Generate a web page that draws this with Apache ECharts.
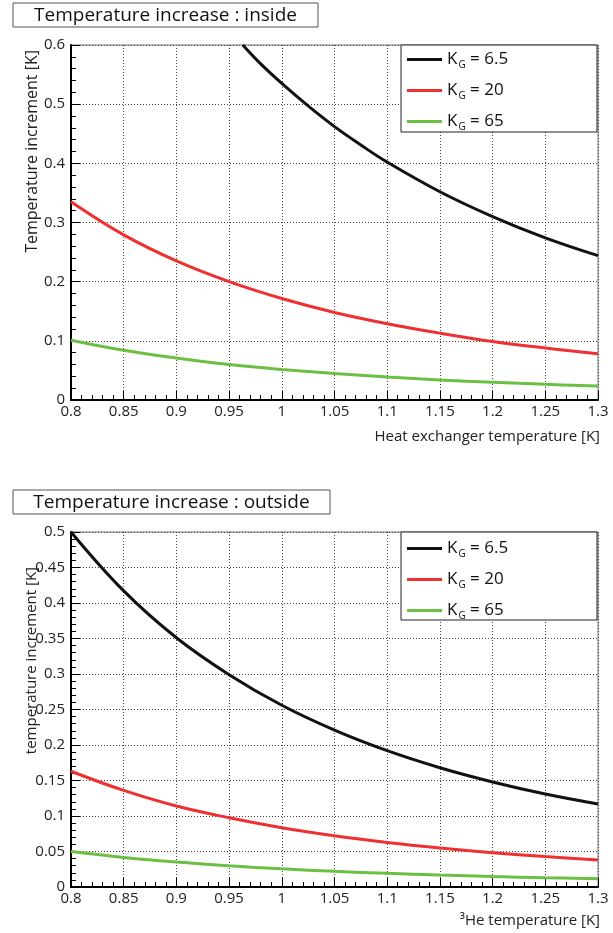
<!DOCTYPE html>
<html>
<head>
<meta charset="utf-8">
<script src="https://cdn.jsdelivr.net/npm/echarts@6/dist/echarts.min.js"></script>
<style>
  html, body { margin: 0; padding: 0; background: #fff; }
  #chart { width: 613px; height: 933px; }
</style>
</head>
<body>
<div id="chart"></div>
<script>
// x values (K)
var temps = [0.8, 0.85, 0.9, 0.95, 1.0, 1.05, 1.1, 1.15, 1.2, 1.25, 1.3];
var tempsInsideBlack = [0.963, 0.98, 1.0, 1.025, 1.05, 1.075, 1.1, 1.15, 1.2, 1.25, 1.3];

// inside (heat exchanger temperature)
var insideK65 = [0.600, 0.568, 0.535, 0.497, 0.462, 0.431, 0.402, 0.352, 0.310, 0.274, 0.244];
var insideK20 = [0.335, 0.279, 0.235, 0.200, 0.1715, 0.148, 0.129, 0.113, 0.099, 0.088, 0.078];
var insideK65g = [0.101, 0.084, 0.071, 0.060, 0.0517, 0.0447, 0.0389, 0.034, 0.030, 0.0265, 0.0235];

// outside (3He temperature)
var outsideK65 = [0.500, 0.417, 0.351, 0.299, 0.256, 0.221, 0.192, 0.168, 0.148, 0.131, 0.117];
var outsideK20 = [0.163, 0.136, 0.114, 0.0975, 0.0835, 0.0721, 0.0627, 0.0549, 0.0483, 0.0428, 0.038];
var outsideK65g = [0.050, 0.0417, 0.0351, 0.0299, 0.0256, 0.0221, 0.0192, 0.0168, 0.0148, 0.0131, 0.0117];

var names = ['K_G = 6.5', 'K_G = 20', 'K_G = 65'];
var colors = ['#111111', '#ee3030', '#6cbf45'];

function pairs(xs, ys) {
  return xs.map(function (x, i) { return [x, ys[i]]; });
}

var font = 'Open Sans';

function xAxisFor(idx) {
  return {
    type: 'value', gridIndex: idx, min: 0.8, max: 1.3, interval: 0.05,
    axisLine: { onZero: false, lineStyle: { color: '#000', width: 2 } },
    axisTick: { inside: true, length: 9, lineStyle: { color: '#000', width: 1 } },
    minorTick: { show: true, splitNumber: 5, length: 5, lineStyle: { color: '#000', width: 1 } },
    splitLine: { show: true, lineStyle: { color: '#444', width: 1, type: [1, 2] } },
    axisLabel: { fontFamily: font, fontSize: 15, color: '#222', margin: 4 }
  };
}

function yAxisFor(idx, max, step) {
  return {
    type: 'value', gridIndex: idx, min: 0, max: max, interval: step,
    axisLine: { show: true, onZero: false, lineStyle: { color: '#000', width: 2 } },
    axisTick: { show: true, inside: true, length: 9, lineStyle: { color: '#000', width: 1 } },
    minorTick: { show: true, splitNumber: 5, length: 5, lineStyle: { color: '#000', width: 1 } },
    splitLine: { show: true, lineStyle: { color: '#444', width: 1, type: [1, 2] } },
    axisLabel: { fontFamily: font, fontSize: 15, color: '#222', margin: 6 }
  };
}

function lineSeries(i, xIdx, data) {
  return {
    name: names[i], type: 'line', xAxisIndex: xIdx, yAxisIndex: xIdx,
    data: data, smooth: 0.4, symbol: 'none',
    lineStyle: { color: colors[i], width: 3 }, itemStyle: { color: colors[i] }
  };
}

function legendFor(top) {
  return {
    data: names, orient: 'vertical', left: 407, top: top,
    icon: 'rect', itemWidth: 35, itemHeight: 3, itemGap: 10,
    padding: 0, selectedMode: false,
    formatter: function (n) {
      return '{k|K}{g|G}{k| = ' + n.split('=')[1].trim() + '}';
    },
    textStyle: {
      rich: {
        k: { fontFamily: font, fontSize: 17, color: '#111', lineHeight: 21 },
        g: { fontFamily: font, fontSize: 10, color: '#111', padding: [11, 0, 0, 1], lineHeight: 21 }
      }
    }
  };
}

function boxedTitle(x, y, w, h, text) {
  return [
    { type: 'rect', shape: { x: x, y: y, width: w, height: h }, style: { fill: '#fff', stroke: '#555', lineWidth: 1 } },
    { type: 'text', x: x + w / 2, y: y + h / 2 + 1, style: { text: text, font: '19px "Open Sans"', fill: '#111', align: 'center', verticalAlign: 'middle' } }
  ];
}

var chart = echarts.init(document.getElementById('chart'));

var option = {
  animation: false,
  grid: [
    { left: 71, right: 15, top: 45, height: 355, show: true, borderColor: '#777', borderWidth: 1 },
    { left: 71, right: 15, top: 532, height: 355, show: true, borderColor: '#777', borderWidth: 1 }
  ],
  xAxis: [xAxisFor(0), xAxisFor(1)],
  yAxis: [yAxisFor(0, 0.6, 0.1), yAxisFor(1, 0.5, 0.05)],
  legend: [legendFor(49), legendFor(538)],
  graphic: [].concat(
    boxedTitle(13, 3, 305, 24, 'Temperature increase : inside'),
    boxedTitle(13, 490, 317, 24, 'Temperature increase : outside'),
    [
      { type: 'rect', z: 3, shape: { x: 401, y: 45, width: 196, height: 87 }, style: { fill: '#fff', stroke: '#222', lineWidth: 1 } },
      { type: 'rect', z: 3, shape: { x: 401, y: 532, width: 196, height: 88 }, style: { fill: '#fff', stroke: '#222', lineWidth: 1 } },
      { type: 'text', x: 600, y: 437, style: { text: 'Heat exchanger temperature [K]', font: '15px "Open Sans"', fill: '#222', align: 'right', verticalAlign: 'middle' } },
      { type: 'text', x: 600, y: 921, style: { text: '³He temperature [K]', font: '15px "Open Sans"', fill: '#222', align: 'right', verticalAlign: 'middle' } },
      { type: 'text', x: 32, y: 50, rotation: Math.PI / 2, style: { text: 'Temperature increment [K]', font: '16px "Open Sans"', fill: '#222', align: 'right', verticalAlign: 'middle' } },
      { type: 'text', x: 32, y: 567, rotation: Math.PI / 2, style: { text: 'temperature increment [K]', font: '15px "Open Sans"', fill: '#222', align: 'right', verticalAlign: 'middle' } }
    ]
  ),
  series: [
    lineSeries(0, 0, pairs(tempsInsideBlack, insideK65)),
    lineSeries(1, 0, pairs(temps, insideK20)),
    lineSeries(2, 0, pairs(temps, insideK65g)),
    lineSeries(0, 1, pairs(temps, outsideK65)),
    lineSeries(1, 1, pairs(temps, outsideK20)),
    lineSeries(2, 1, pairs(temps, outsideK65g))
  ]
};

option && chart.setOption(option);
</script>
</body>
</html>
